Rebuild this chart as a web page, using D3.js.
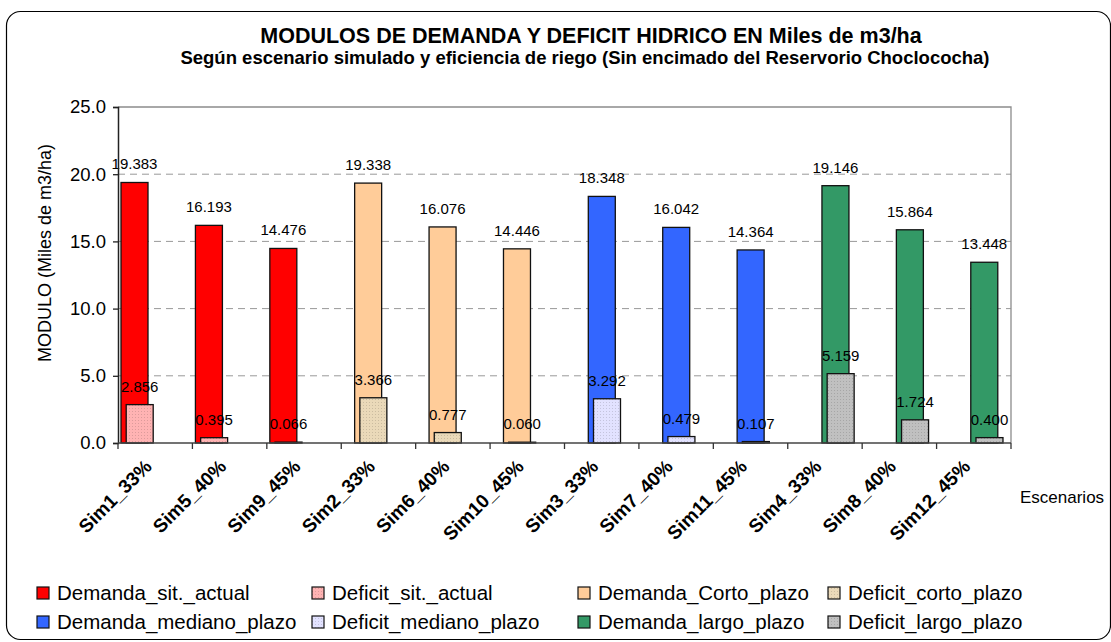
<!DOCTYPE html>
<html lang="es">
<head>
  <meta charset="UTF-8">
  <title>modulos</title>
  <script type="text/javascript" src="https://cdn.jsdelivr.net/npm/d3@7/dist/d3.min.js"></script>
  <style>
    body { margin: 0; background: #fff; }
    text { font-family: "Liberation Sans", Arial, sans-serif; fill: #000; }
  </style>
</head>
<body>
<div id="chart"></div>
<script type="text/javascript">
    // datos
    let escenarios = ["Sim1_33%", "Sim5_40%", "Sim9_45%", "Sim2_33%", "Sim6_40%", "Sim10_45%",
        "Sim3_33%", "Sim7_40%", "Sim11_45%", "Sim4_33%", "Sim8_40%", "Sim12_45%"];
    let demanda = [19.383, 16.193, 14.476, 19.338, 16.076, 14.446, 18.348, 16.042, 14.364, 19.146, 15.864, 13.448];
    let deficit = [2.856, 0.395, 0.066, 3.366, 0.777, 0.060, 3.292, 0.479, 0.107, 5.159, 1.724, 0.400];
    let series = ["Demanda_sit._actual", "Deficit_sit._actual", "Demanda_Corto_plazo", "Deficit_corto_plazo",
        "Demanda_mediano_plazo", "Deficit_mediano_plazo", "Demanda_largo_plazo", "Deficit_largo_plazo"];
    let colores = ["#ff0000", "#ffb3b3", "#ffcc99", "#ead9b9", "#3366ff", "#e2e2ff", "#339966", "#c0c0c0"];
    let y_ticks = [0, 5, 10, 15, 20, 25];

    let width = 1111, height = 642;
    let svg = d3.select("#chart").append("svg").attr("width", width).attr("height", height);

    // tramas punteadas para los deficit
    let defs = svg.append("defs");
    [1, 3, 5, 7].forEach(function (i) {
        let p = defs.append("pattern").attr("id", "pat" + i).attr("patternUnits", "userSpaceOnUse")
            .attr("width", 3).attr("height", 3);
        p.append("rect").attr("width", 3).attr("height", 3).attr("fill", colores[i]);
        p.append("rect").attr("x", 0).attr("y", 0).attr("width", 1).attr("height", 1)
            .attr("fill", d3.color(colores[i]).darker(0.4));
    });
    let relleno = function (i) { return i % 2 === 1 ? "url(#pat" + i + ")" : colores[i]; };

    // marco exterior
    svg.append("rect").attr("x", 6.5).attr("y", 11.5).attr("width", 1104).attr("height", 628)
        .attr("rx", 14).attr("fill", "none").attr("stroke", "#000").attr("stroke-width", 1.2);

    svg.append("text").attr("x", 591).attr("y", 43).attr("text-anchor", "middle")
        .style("font-weight", "bold").style("font-size", "21.5px")
        .text("MODULOS DE DEMANDA Y DEFICIT HIDRICO EN Miles de m3/ha");
    svg.append("text").attr("x", 585).attr("y", 64).attr("text-anchor", "middle")
        .style("font-weight", "bold").style("font-size", "18.5px")
        .text("Según escenario simulado y eficiencia de riego (Sin encimado del Reservorio Choclococha)");

    let x0 = 118, x1 = 1011, y0 = 443, y1 = 107;
    let x = d3.scaleBand().domain(escenarios).range([x0, x1]);
    let y = d3.scaleLinear().domain([0, 25]).range([y0, y1]);
    let off = d3.scaleLinear().domain([0, 7]).range([3, 39.4]);
    let bar_w = 27;

    // cuadricula
    svg.append("g").selectAll("line").data(y_ticks.filter(d => d > 0 && d < 25)).join("line")
        .attr("x1", x0).attr("x2", x1).attr("y1", d => y(d)).attr("y2", d => y(d))
        .attr("stroke", "#999").attr("stroke-dasharray", "7,5");
    svg.append("path").attr("d", "M" + x0 + "," + y(25) + "H" + x1 + "V" + y0)
        .attr("fill", "none").attr("stroke", "#8c8c8c").attr("stroke-width", 1.3);

    // barras
    let g = svg.append("g");
    escenarios.forEach(function (c, i) {
        let k = Math.floor(i / 3);
        [[2 * k, demanda[i]], [2 * k + 1, deficit[i]]].forEach(function (s) {
            g.append("rect").attr("x", x(c) + off(s[0])).attr("y", y(s[1]))
                .attr("width", bar_w).attr("height", y(0) - y(s[1]))
                .attr("fill", relleno(s[0])).attr("stroke", "#111").attr("stroke-width", 1.3);
        });
    });
    escenarios.forEach(function (c, i) {
        let k = Math.floor(i / 3);
        [[2 * k, demanda[i]], [2 * k + 1, deficit[i]]].forEach(function (s) {
            g.append("text").attr("x", x(c) + off(s[0]) + bar_w / 2).attr("y", y(s[1]) - 13)
                .attr("text-anchor", "middle").style("font-size", "15px").text(s[1].toFixed(3));
        });
    });

    // ejes
    let ya = svg.append("g").attr("transform", "translate(" + x0 + ",0)")
        .call(d3.axisLeft(y).tickValues(y_ticks).tickFormat(d3.format(".1f")).tickSize(5).tickPadding(7));
    ya.select(".domain").attr("stroke", "#222").attr("stroke-width", 1.5);
    ya.selectAll(".tick line").attr("stroke", "#222").attr("stroke-width", 1.3);
    ya.selectAll("text").style("font-size", "18.5px").attr("font-family", null).attr("fill", "#000");

    let xa = svg.append("g").attr("transform", "translate(0," + y0 + ")");
    xa.append("line").attr("x1", x0).attr("x2", x1).attr("stroke", "#444").attr("stroke-width", 1.5);
    xa.selectAll(".tk").data(escenarios.concat(["fin"])).join("line")
        .attr("x1", (d, i) => x0 + i * x.step()).attr("x2", (d, i) => x0 + i * x.step())
        .attr("y1", 0).attr("y2", 6).attr("stroke", "#333").attr("stroke-width", 1.3);
    xa.selectAll(".lb").data(escenarios).join("text")
        .attr("transform", d => "translate(" + (x(d) + x.bandwidth() / 2 - 7) + ",20) rotate(-45)")
        .attr("text-anchor", "end").attr("dy", "0.35em")
        .style("font-weight", "bold").style("font-size", "19px").text(d => d);

    svg.append("text").attr("transform", "translate(51,253) rotate(-90)").attr("text-anchor", "middle")
        .style("font-size", "18px").text("MODULO (Miles de m3/ha)");
    svg.append("text").attr("x", 1020).attr("y", 503).style("font-size", "17px").text("Escenarios");

    // leyenda
    let col_x = [37, 312, 578, 828], row_y = [593, 622];
    let ley = svg.append("g");
    series.forEach(function (s, i) {
        let lx = col_x[i % 4], ly = row_y[Math.floor(i / 4)];
        ley.append("rect").attr("x", lx).attr("y", ly - 6).attr("width", 12).attr("height", 12)
            .attr("fill", relleno(i)).attr("stroke", "#111").attr("stroke-width", 1.2);
        ley.append("text").attr("x", lx + 20).attr("y", ly + 7).style("font-size", "20.5px").text(s);
    });
</script>
</body>
</html>
